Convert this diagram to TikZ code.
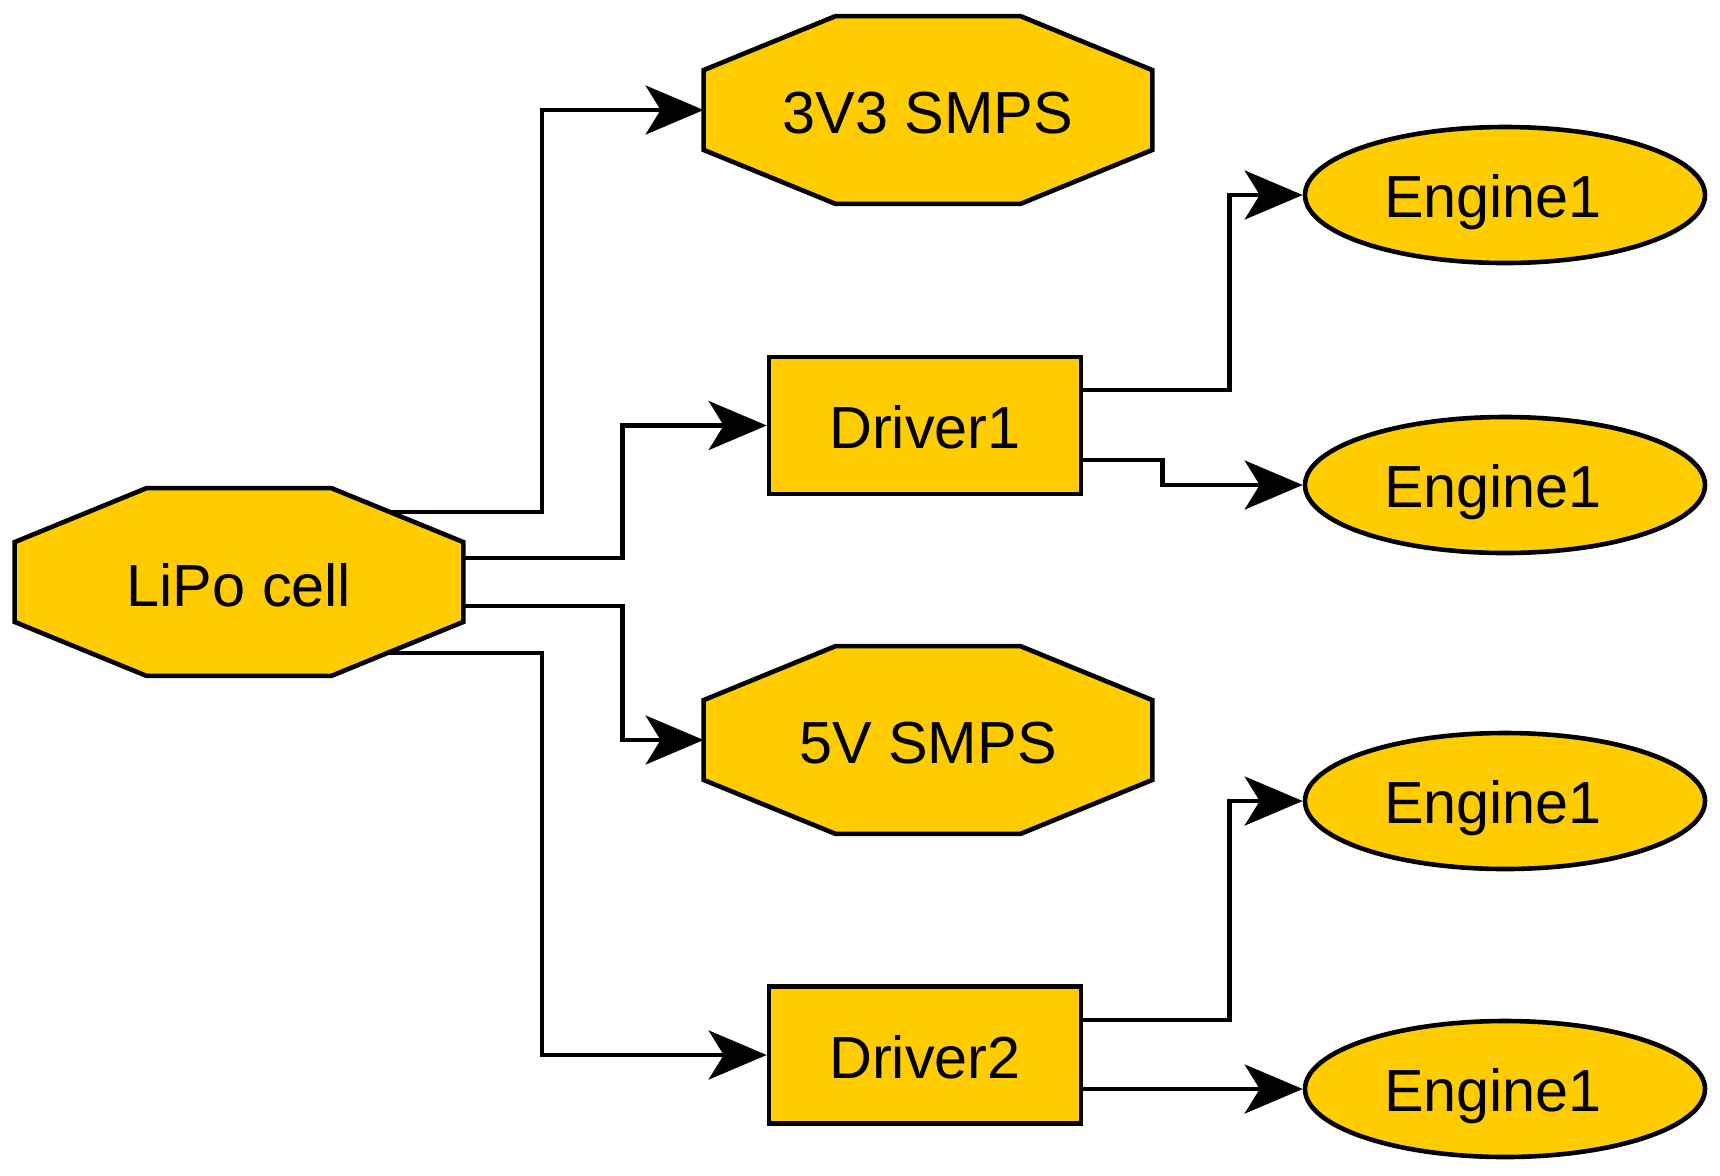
\documentclass[tikz,border=0pt]{standalone}
\usepackage{fontspec}
\setmainfont{Liberation Sans}
\usetikzlibrary{arrows.meta,calc,shapes.geometric,backgrounds}
\definecolor{boxfill}{HTML}{FFCC00}
\newcommand\lowtext[2]{\raisebox{-#1}[\height][\depth]{#2}}
\newcommand\octagonshape[1]{%
  \draw[line width=2.3pt, fill=boxfill, line join=miter]
    ($(#1.north west)+(132,0)$) -- ($(#1.north east)+(-132,0)$) --
    ($(#1.north east)+(0,54)$) -- ($(#1.south east)+(0,-54)$) --
    ($(#1.south east)+(-132,0)$) -- ($(#1.south west)+(132,0)$) --
    ($(#1.south west)+(0,-54)$) -- ($(#1.north west)+(0,54)$) -- cycle;}
\begin{document}
\begin{tikzpicture}[x=0.5pt,y=-0.5pt,
  every node/.style={font=\fontsize{29.7}{35}\selectfont, inner sep=0pt},
  conn/.style={line width=2.2pt, line join=miter, -{Stealth[length=29pt,width=24.5pt,inset=7.5pt]}},
  octo/.style={rectangle, minimum width=224pt, minimum height=93.5pt},
  drvbox/.style={rectangle, draw, line width=2.3pt, fill=boxfill, minimum width=156pt, minimum height=68.5pt},
  engine/.style={ellipse, draw, line width=2.3pt, fill=boxfill, minimum width=200pt, minimum height=68pt}]
\useasboundingbox (0,0) rectangle (1720,1175);

\node[octo] (lipo) at (239,582) {\lowtext{1.5pt}{LiPo cell}};
\node[octo] (v33) at (928,110) {\lowtext{1.5pt}{3V3 SMPS}};
\node[octo] (v5) at (928,740) {\lowtext{1.5pt}{5V SMPS}};
\node[drvbox] (drv1) at (925,425.5) {\lowtext{1pt}{Driver1}};
\node[drvbox] (drv2) at (925,1055) {\lowtext{1pt}{Driver2}};
\node[engine] (e1) at (1505,195) {\lowtext{3.5pt}{Engine1}\hspace*{12pt}};
\node[engine] (e2) at (1505,485) {\lowtext{3.5pt}{Engine1}\hspace*{12pt}};
\node[engine] (e3) at (1505,801) {\lowtext{3.5pt}{Engine1}\hspace*{12pt}};
\node[engine] (e4) at (1505,1089) {\lowtext{3.5pt}{Engine1}\hspace*{12pt}};

\begin{scope}[on background layer]
  \fill[white] (0,0) rectangle (1720,1175);
  \octagonshape{lipo}
  \octagonshape{v33}
  \octagonshape{v5}
\end{scope}

\coordinate (lo1) at ($(lipo.center)+(150,-70)$);
\coordinate (lo2) at ($(lipo.east)+(0,-24)$);
\coordinate (lo3) at ($(lipo.east)+(0,24)$);
\coordinate (lo4) at ($(lipo.center)+(150,71)$);
\coordinate (d1a) at ($(drv1.east)+(0,-35.5)$);
\coordinate (d1b) at ($(drv1.east)+(0,34.5)$);
\coordinate (d2a) at ($(drv2.east)+(0,-35)$);

\draw[conn] (lo1) -- ++(153,0) |- (v33.west);
\draw[conn] (lo2) -- ++(159,0) |- (drv1.west);
\draw[conn] (lo3) -- ++(159,0) |- (v5.west);
\draw[conn] (lo4) -- ++(153,0) |- (drv2.west);
\draw[conn] (d1a) -- ++(146,0) |- (e1.west);
\draw[conn] (d1b) -- ++(79,0) |- (e2.west);
\draw[conn] (d2a) -- ++(146,0) |- (e3.west);
\draw[conn] (drv2.east |- e4.west) -- (e4.west);
\end{tikzpicture}
\end{document}
